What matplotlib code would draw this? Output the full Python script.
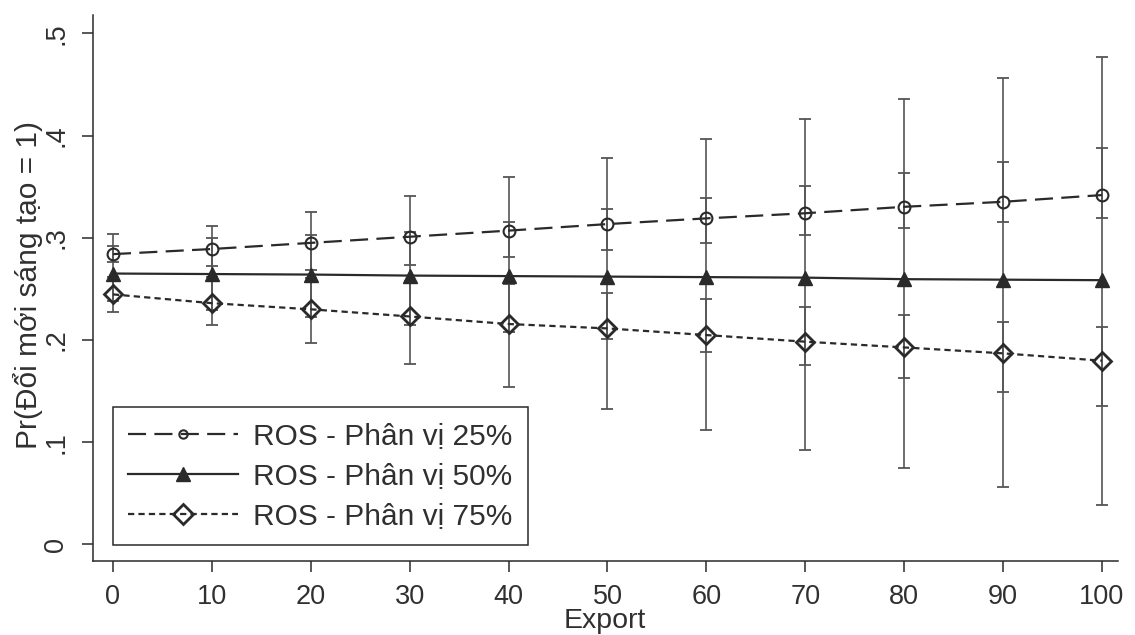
import matplotlib
matplotlib.use("Agg")
import matplotlib.pyplot as plt
from matplotlib.lines import Line2D
import numpy as np

# ---------------- data ----------------
export = [0, 10, 20, 30, 40, 50, 60, 70, 80, 90, 100]

p25 = [0.284, 0.289, 0.295, 0.301, 0.307, 0.3134, 0.319, 0.324, 0.3303, 0.3352, 0.3418]
p25_lo = [0.276, 0.272, 0.268, 0.273, 0.281, 0.288, 0.295, 0.3026, 0.310, 0.3157, 0.319]
p25_hi = [0.292, 0.300, 0.303, 0.306, 0.3157, 0.3278, 0.339, 0.351, 0.363, 0.3744, 0.3875]

p50 = [0.265, 0.2645, 0.264, 0.263, 0.2625, 0.262, 0.2615, 0.261, 0.2595, 0.259, 0.2585]
p50_lo = [0.227, 0.2146, 0.1973, 0.176, 0.1536, 0.132, 0.1118, 0.0923, 0.0743, 0.0564, 0.0385]
p50_hi = [0.304, 0.3114, 0.3255, 0.341, 0.359, 0.3777, 0.397, 0.4158, 0.4356, 0.456, 0.477]

p75 = [0.2446, 0.236, 0.230, 0.2230, 0.2156, 0.2113, 0.2048, 0.1983, 0.1927, 0.1869, 0.1797]
p75_lo = [0.238, 0.229, 0.222, 0.215, 0.208, 0.2006, 0.188, 0.1755, 0.1624, 0.1493, 0.1353]
p75_hi = [0.262, 0.262, 0.261, 0.258, 0.255, 0.2462, 0.240, 0.2319, 0.2244, 0.2178, 0.2123]

series_labels = ["ROS - Phân vị 25%", "ROS - Phân vị 50%", "ROS - Phân vị 75%"]
yticks = [0, 0.1, 0.2, 0.3, 0.4, 0.5]
ytick_labels = ["0", ".1", ".2", ".3", ".4", ".5"]
xticks = export
xlabel = "Export"
ylabel = "Pr(Đổi mới sáng tạo = 1)"

# ---------------- style ----------------
plt.rcParams["font.family"] = ["Liberation Sans", "DejaVu Sans"]
plt.rcParams["lines.scale_dashes"] = False

INK = "#2a2a2a"
CI = "#555555"
TXT = "#303030"

W, H = 1135, 635
fig = plt.figure(figsize=(W / 100, H / 100), dpi=100)
fig.patch.set_facecolor("white")
ax = fig.add_axes([93 / W, 1 - 561 / H, (1118 - 93) / W, (561 - 15) / H])
ax.set_facecolor("white")

styles = [
    dict(color=INK, lw=1.6, dashes=(13, 6), marker="o", ms=8.5, mfc="none", mec=INK, mew=1.5),
    dict(color=INK, lw=1.6, linestyle="-", marker="^", ms=9.5, mfc=INK, mec=INK, mew=1.0),
    dict(color=INK, lw=1.6, dashes=(4.5, 3), marker="D", ms=9, mfc="none", mec=INK, mew=2.0),
]
means = [p25, p50, p75]
los = [p25_lo, p50_lo, p75_lo]
his = [p25_hi, p50_hi, p75_hi]

x = np.array(export, dtype=float)
for m, lo, hi in zip(means, los, his):
    m = np.array(m); lo = np.array(lo); hi = np.array(hi)
    ax.errorbar(x, m, yerr=[m - lo, hi - m], fmt="none", ecolor=CI,
                elinewidth=1.2, capsize=4.3, capthick=1.3, zorder=1)

for m, st in zip(means, styles):
    ax.plot(x, m, zorder=3, **st)

ax.set_xlim(-2.02, 101.62)
ax.set_ylim(-0.0163, 0.518)

for s in ["top", "right"]:
    ax.spines[s].set_visible(False)
for s in ["left", "bottom"]:
    ax.spines[s].set_color(INK)
    ax.spines[s].set_linewidth(1.1)

ax.set_xticks(xticks)
ax.set_xticklabels([str(v) for v in xticks])
ax.set_yticks(yticks)
ax.set_yticklabels(ytick_labels, rotation=90, va="center")
ax.tick_params(axis="both", length=8, width=1.1, color=INK, labelcolor=TXT, labelsize=19.5)
ax.tick_params(axis="x", pad=8.5)
ax.tick_params(axis="y", pad=9)

fig.text(605 / W, 1 - 621 / H, xlabel, ha="center", va="center", fontsize=20.5, color=TXT)
fig.text(28 / W, 1 - 285 / H, ylabel, ha="center", va="center", rotation=90,
         fontsize=21.5, color=TXT)

# legend
leg_ms = [6, 10, 10]
handles = []
for st, ms in zip(styles, leg_ms):
    d = dict(st)
    d["ms"] = ms
    handles.append(Line2D([], [], **d))
leg = ax.legend(handles, series_labels, loc="lower left",
                bbox_to_anchor=(0.0195, 0.0293), borderaxespad=0,
                fontsize=21.5, frameon=True, fancybox=False, edgecolor=INK,
                framealpha=1, handlelength=3.7, handletextpad=0.5,
                borderpad=0.5, labelspacing=0.4, numpoints=1)
leg.get_frame().set_linewidth(1.1)
for t in leg.get_texts():
    t.set_color(TXT)

fig.savefig("out.png", dpi=100)
